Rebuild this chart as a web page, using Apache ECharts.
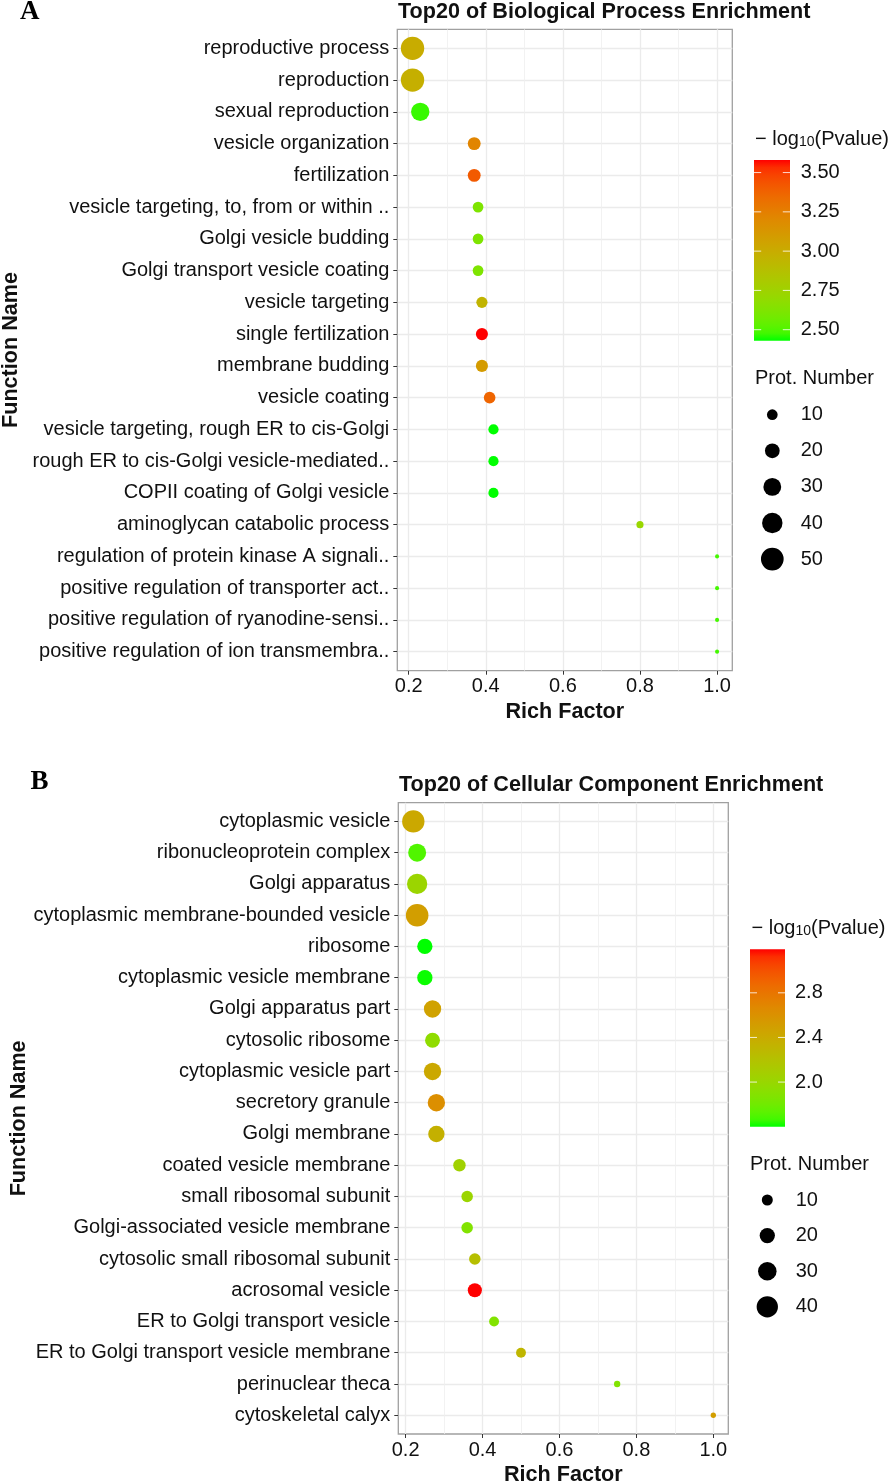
<!DOCTYPE html>
<html><head><meta charset="utf-8">
<script src="https://cdn.jsdelivr.net/npm/echarts@6/dist/echarts.min.js"></script>
<style>html,body{margin:0;padding:0;background:#fff}#c{width:896px;height:1484px}</style>
</head><body><div id="c"></div>
<script>
// ---------- DATA ----------
const catsA = ["reproductive process","reproduction","sexual reproduction","vesicle organization","fertilization",
  "vesicle targeting, to, from or within ..","Golgi vesicle budding","Golgi transport vesicle coating","vesicle targeting",
  "single fertilization","membrane budding","vesicle coating","vesicle targeting, rough ER to cis-Golgi",
  "rough ER to cis-Golgi vesicle-mediated..","COPII coating of Golgi vesicle","aminoglycan catabolic process",
  "regulation of protein kinase A signali..","positive regulation of transporter act..",
  "positive regulation of ryanodine-sensi..","positive regulation of ion transmembra.."];
const richA  = [0.21,0.21,0.23,0.37,0.37,0.38,0.38,0.38,0.39,0.39,0.39,0.41,0.42,0.42,0.42,0.80,1.0,1.0,1.0,1.0];
const countA = [53,53,32,15,15,10,10,10,11,13,13,12,9,9,9,4,1,1,1,1];
const logpA  = [3.00,2.98,2.47,3.22,3.41,2.62,2.62,2.62,2.95,3.58,3.10,3.37,2.43,2.43,2.43,2.72,2.48,2.48,2.48,2.48];

const catsB = ["cytoplasmic vesicle","ribonucleoprotein complex","Golgi apparatus","cytoplasmic membrane-bounded vesicle",
  "ribosome","cytoplasmic vesicle membrane","Golgi apparatus part","cytosolic ribosome","cytoplasmic vesicle part",
  "secretory granule","Golgi membrane","coated vesicle membrane","small ribosomal subunit",
  "Golgi-associated vesicle membrane","cytosolic small ribosomal subunit","acrosomal vesicle",
  "ER to Golgi transport vesicle","ER to Golgi transport vesicle membrane","perinuclear theca","cytoskeletal calyx"];
const richB  = [0.22,0.23,0.23,0.23,0.25,0.25,0.27,0.27,0.27,0.28,0.28,0.34,0.36,0.36,0.38,0.38,0.43,0.50,0.75,1.00];
const countB = [44,28,36,45,20,20,26,19,26,26,23,13,11,11,11,17,8,8,3,2];
const logpB  = [2.42,1.70,2.02,2.50,1.60,1.61,2.47,1.95,2.42,2.62,2.35,2.05,2.02,1.88,2.22,3.19,1.88,2.30,1.88,2.50];

const xTicks = [0.2,0.4,0.6,0.8,1.0];
const xMinor = [0.3,0.5,0.7,0.9];
const colorTicksA = [2.5,2.75,3.0,3.25,3.5];
const colorTicksB = [2.0,2.4,2.8];
const sizeTicksA = [10,20,30,40,50];
const sizeTicksB = [10,20,30,40];

// ---------- helpers ----------
const sizeA = n => 3.07*Math.sqrt(n)+1;
const sizeB = n => 3.26*Math.sqrt(n)+0.7;
function s2l(c){c/=255;return c<=0.04045?c/12.92:Math.pow((c+0.055)/1.055,2.4);}
function l2s(c){c=c<=0.0031308?12.92*c:1.055*Math.pow(c,1/2.4)-0.055;return Math.round(Math.max(0,Math.min(1,c))*255);}
const Xn=0.95047,Yn=1,Zn=1.08883;
function toLab(rgb){const r=s2l(rgb[0]),g=s2l(rgb[1]),b=s2l(rgb[2]);
  const X=(0.4124*r+0.3576*g+0.1805*b)/Xn,Y=(0.2126*r+0.7152*g+0.0722*b)/Yn,Z=(0.0193*r+0.1192*g+0.9505*b)/Zn;
  const f=t=>t>0.008856?Math.cbrt(t):7.787*t+16/116;
  return [116*f(Y)-16,500*(f(X)-f(Y)),200*(f(Y)-f(Z))];}
function fromLab(L,a,b){const fy=(L+16)/116,fx=fy+a/500,fz=fy-b/200;
  const fi=t=>t*t*t>0.008856?t*t*t:(t-16/116)/7.787;
  const X=Xn*fi(fx),Y=Yn*fi(fy),Z=Zn*fi(fz);
  const r=3.2406*X-1.5372*Y-0.4986*Z,g=-0.9689*X+1.8758*Y+0.0415*Z,bb=0.0557*X-0.2040*Y+1.0570*Z;
  return 'rgb('+l2s(r)+','+l2s(g)+','+l2s(bb)+')';}
const labLo=toLab([0,255,0]),labHi=toLab([255,0,0]);
const STOPS=24;
const ramp=[];for(let i=0;i<=STOPS;i++){const t=i/STOPS;ramp.push(fromLab(labLo[0]+(labHi[0]-labLo[0])*t,labLo[1]+(labHi[1]-labLo[1])*t,labLo[2]+(labHi[2]-labLo[2])*t));}

const FONT='"Liberation Sans", Arial, Helvetica, sans-serif';
const TXT='#111';

function expand(arr){const lo=Math.min(...arr),hi=Math.max(...arr),p=(hi-lo)*0.05;return [lo-p,hi+p];}
const xrA=expand(richA), xrB=expand(richB);

const panels=[
  {cats:catsA,rich:richA,count:countA,logp:logpA,size:sizeA,xr:xrA,
   grid:{left:397.3,top:29.3,width:335,height:641.4},nameGap:375,
   title:'Top20 of Biological Process Enrichment',titleY:12,tag:'A',tagX:20,tagY:12.5,
   cb:{x:754,y:160,w:36,h:180.7,ticks:colorTicksA,dec:2,titleX:755,titleY:137,labX:800.7},
   sz:{titleX:755,titleY:378,cx:772.3,y0:414.7,dy:36.1,ticks:sizeTicksA,labX:800.7}},
  {cats:catsB,rich:richB,count:countB,logp:logpB,size:sizeB,xr:xrB,
   grid:{left:398.3,top:802.7,width:330,height:631.3},nameGap:368,
   title:'Top20 of Cellular Component Enrichment',titleY:785,tag:'B',tagX:30.5,tagY:782.5,
   cb:{x:750,y:949.3,w:35,h:177.4,ticks:colorTicksB,dec:1,titleX:751.5,titleY:926,labX:795},
   sz:{titleX:750,titleY:1164,cx:767.3,y0:1200,dy:35.6,ticks:sizeTicksB,labX:795.7}}
];

const option={animation:false,backgroundColor:'#fff',grid:[],xAxis:[],yAxis:[],series:[],visualMap:[],graphic:[]};

panels.forEach((p,k)=>{
  const N=p.cats.length;
  option.grid.push(Object.assign({show:true,borderColor:'#a0a0a0',borderWidth:1.3,backgroundColor:'#fff',outerBoundsMode:'none',containLabel:false},p.grid));
  option.xAxis.push({gridIndex:k,type:'value',min:p.xr[0],max:p.xr[1],position:'bottom',
    axisLine:{show:false,onZero:false},
    axisTick:{show:true,customValues:xTicks,length:4,lineStyle:{color:'#333',width:1}},
    axisLabel:{customValues:xTicks,formatter:v=>v.toFixed(1),fontFamily:FONT,fontSize:20,color:TXT,margin:6},
    splitLine:{show:true,lineStyle:{color:'#ebebeb',width:1.3}},
    name:'Rich Factor',nameLocation:'middle',nameGap:30,
    nameTextStyle:{fontFamily:FONT,fontSize:21.6,fontWeight:'bold',color:TXT}});
  option.yAxis.push({gridIndex:k,type:'value',inverse:true,min:-0.6,max:N-1+0.6,position:'left',
    axisLine:{show:false,onZero:false},
    axisTick:{show:true,customValues:p.cats.map((c,i)=>i),length:4,lineStyle:{color:'#333',width:1}},
    axisLabel:{customValues:p.cats.map((c,i)=>i),formatter:v=>p.cats[Math.round(v)],fontFamily:FONT,fontSize:20,color:TXT,margin:8},
    splitLine:{show:true,lineStyle:{color:'#ebebeb',width:1.3}},
    name:'Function Name',nameLocation:'middle',nameRotate:90,nameGap:p.nameGap,
    nameTextStyle:{fontFamily:FONT,fontSize:21.6,fontWeight:'bold',color:TXT}});
  const lo=Math.min(...p.logp),hi=Math.max(...p.logp);
  p.lo=lo;p.hi=hi;
  option.visualMap.push({type:'continuous',show:false,seriesIndex:k,dimension:2,min:lo,max:hi,inRange:{color:ramp}});
  option.series.push({type:'scatter',xAxisIndex:k,yAxisIndex:k,z:5,
    data:p.cats.map((c,i)=>[p.rich[i],i,p.logp[i],p.count[i]]),
    symbolSize:d=>p.size(d[3]),itemStyle:{opacity:1},emphasis:{disabled:true}});
});
// minor x gridlines (extra hidden axes)
panels.forEach((p,k)=>{
  option.xAxis.push({gridIndex:k,type:'value',min:p.xr[0],max:p.xr[1],position:'top',
    axisLine:{show:false,onZero:false},axisTick:{show:false,customValues:xMinor},axisLabel:{show:false,customValues:xMinor},
    splitLine:{show:true,lineStyle:{color:'#efefef',width:0.8}}});
});

// graphics: titles, tags, legends
panels.forEach((p,k)=>{
  const G=option.graphic;
  G.push({type:'text',x:p.grid.left+0.7,y:p.titleY,style:{text:p.title,font:'bold 21.6px '+FONT,fill:TXT,verticalAlign:'middle'}});
  G.push({type:'text',x:p.tagX,y:p.tagY,style:{text:p.tag,font:'bold 27px "Liberation Serif", "Times New Roman", serif',fill:'#000',verticalAlign:'middle'}});
  const cb=p.cb;
  G.push({type:'text',x:cb.titleX,y:cb.titleY,style:{
    text:'{a|− log}{s|10}{a|(Pvalue)}',verticalAlign:'middle',
    rich:{a:{font:'20px '+FONT,fill:TXT,verticalAlign:'bottom',lineHeight:24},s:{font:'14px '+FONT,fill:TXT,verticalAlign:'bottom',lineHeight:19}}}});
  const stops=ramp.map((c,i)=>({offset:1-i/STOPS,color:c})).reverse();
  G.push({type:'rect',shape:{x:cb.x,y:cb.y,width:cb.w,height:cb.h},style:{fill:new echarts.graphic.LinearGradient(0,0,0,1,stops)}});
  cb.ticks.forEach(v=>{
    const y=cb.y+(p.hi-v)/(p.hi-p.lo)*cb.h;
    const tl=cb.w/5;
    G.push({type:'line',shape:{x1:cb.x,y1:y,x2:cb.x+tl,y2:y},style:{stroke:'rgba(255,255,255,0.8)',lineWidth:1}});
    G.push({type:'line',shape:{x1:cb.x+cb.w-tl,y1:y,x2:cb.x+cb.w,y2:y},style:{stroke:'rgba(255,255,255,0.8)',lineWidth:1}});
    G.push({type:'text',x:cb.labX,y:y,style:{text:v.toFixed(cb.dec),font:'20px '+FONT,fill:TXT,verticalAlign:'middle'}});
  });
  const sz=p.sz;
  G.push({type:'text',x:sz.titleX,y:sz.titleY,style:{text:'Prot. Number',font:'20px '+FONT,fill:TXT,verticalAlign:'middle'}});
  sz.ticks.forEach((v,i)=>{
    const y=sz.y0+i*sz.dy;
    G.push({type:'circle',shape:{cx:sz.cx,cy:y,r:p.size(v)/2},style:{fill:'#000'}});
    G.push({type:'text',x:sz.labX,y:y,style:{text:String(v),font:'20px '+FONT,fill:TXT,verticalAlign:'middle'}});
  });
});

const chart=echarts.init(document.getElementById('c'),null,{renderer:'canvas'});
chart.setOption(option);
</script></body></html>
